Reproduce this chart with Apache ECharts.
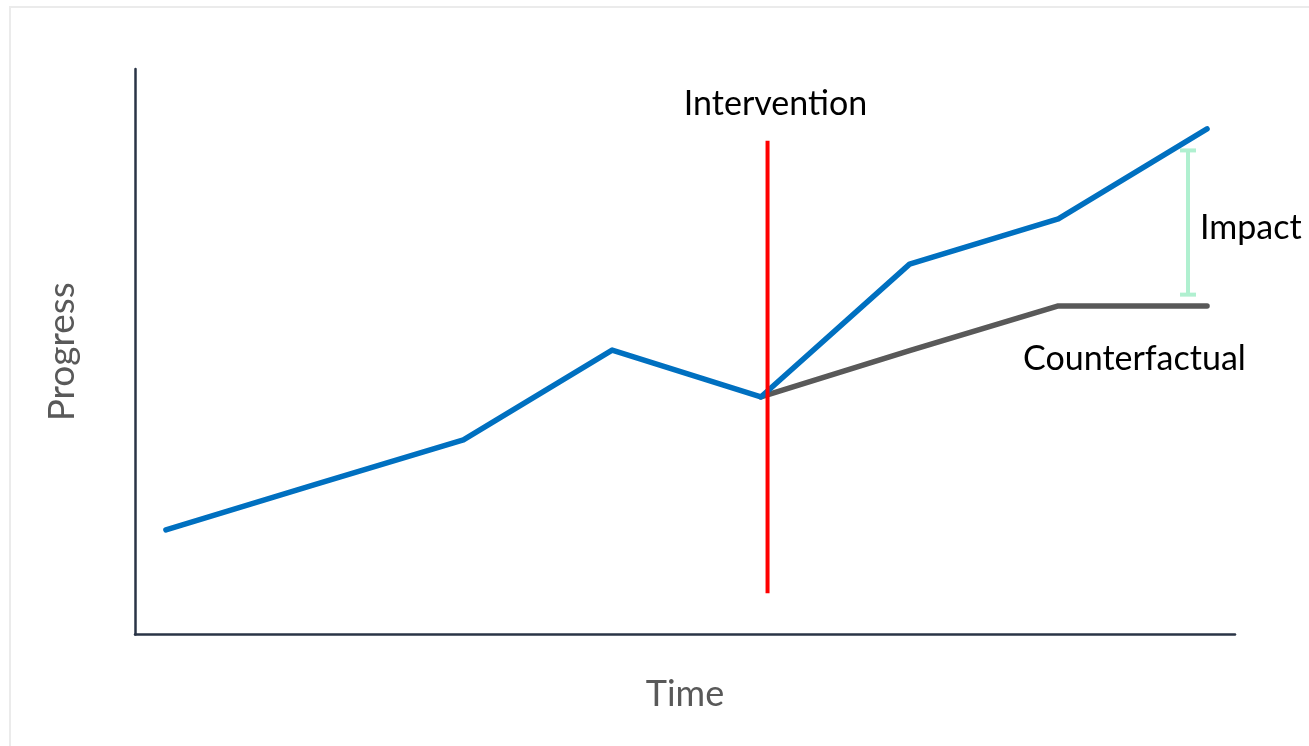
<!DOCTYPE html>
<html>
<head>
<meta charset="utf-8">
<script src="https://cdn.jsdelivr.net/npm/echarts@6/dist/echarts.min.js"></script>
<style>
html,body{margin:0;padding:0;background:#fff;}
#chart{width:1309px;height:746px;}
</style>
</head>
<body>
<div id="chart"></div>
<script>
// Data (x = time step index, y = progress on a 0–100 scale)
const timeSteps = [0, 1, 2, 3, 4, 5, 6, 7];
const progressValues = [18.5, 26.5, 34.4, 50.3, 42.0, 65.5, 73.5, 89.4];
const counterfactualSteps = [4, 5, 6, 7];
const counterfactualValues = [42.0, 50.2, 58.1, 58.1];
const interventionX = 4.045;
const interventionRange = [7.3, 87.3];
const impactX = 6.872;
const impactRange = [60.1, 85.6];
const labels = { intervention: 'Intervention', impact: 'Impact', counterfactual: 'Counterfactual', xName: 'Time', yName: 'Progress' };

const chart = echarts.init(document.getElementById('chart'));
const font = 'Lato, "Open Sans", sans-serif';

const option = {
  animation: false,
  backgroundColor: '#fff',
  graphic: [{
    type: 'rect', z: -10,
    shape: { x: 10, y: 7, width: 1300, height: 742 },
    style: { fill: '#fff', stroke: '#ebebeb', lineWidth: 2 }
  }],
  grid: { left: 135, top: 69, width: 1100, height: 565.5 },
  xAxis: {
    type: 'value', min: -0.208, max: 7.188,
    name: labels.xName, nameLocation: 'middle', nameGap: 42,
    nameTextStyle: { fontFamily: font, fontSize: 36, color: '#595959' },
    axisLine: { show: true, onZero: false, lineStyle: { color: '#2a3446', width: 2.5 } },
    axisTick: { show: false }, axisLabel: { show: false }, splitLine: { show: false }
  },
  yAxis: {
    type: 'value', min: 0, max: 100,
    name: labels.yName, nameLocation: 'middle', nameGap: 54,
    nameTextStyle: { fontFamily: font, fontSize: 37, color: '#595959' },
    axisLine: { show: true, onZero: false, lineStyle: { color: '#2a3446', width: 2.5 } },
    axisTick: { show: false }, axisLabel: { show: false }, splitLine: { show: false }
  },
  series: [
    {
      name: 'Counterfactual', type: 'line', z: 2,
      data: counterfactualSteps.map((x, i) => [x, counterfactualValues[i]]),
      symbol: 'none',
      lineStyle: { color: '#595959', width: 5.5, cap: 'round', join: 'round' },
      endLabel: {
        show: true, formatter: labels.counterfactual,
        fontFamily: font, fontSize: 34, color: '#000',
        offset: [-192, 53]
      }
    },
    {
      name: 'Progress', type: 'line', z: 3,
      data: timeSteps.map((x, i) => [x, progressValues[i]]),
      symbol: 'none',
      lineStyle: { color: '#0070c0', width: 5.5, cap: 'round', join: 'round' }
    },
    {
      name: 'Impact', type: 'line', z: 2,
      data: [[impactX, impactRange[0]], [impactX, impactRange[1]]],
      symbol: 'rect', symbolSize: [16, 4],
      itemStyle: { color: '#b0f0d0' },
      lineStyle: { color: '#b0f0d0', width: 4 },
      markPoint: {
        symbol: 'circle', symbolSize: 0,
        data: [{ coord: [impactX, (impactRange[0] + impactRange[1]) / 2] }],
        label: {
          show: true, position: 'right', distance: 12, formatter: labels.impact,
          fontFamily: font, fontSize: 34, color: '#000', offset: [0, 5]
        }
      }
    },
    {
      name: 'Intervention', type: 'line', z: 5,
      data: [[interventionX, interventionRange[0]], [interventionX, interventionRange[1]]],
      symbol: 'none',
      lineStyle: { color: '#ff0000', width: 4, cap: 'butt' },
      markPoint: {
        symbol: 'circle', symbolSize: 0,
        data: [{ coord: [interventionX, interventionRange[1]] }],
        label: {
          show: true, position: 'top', distance: 20, formatter: labels.intervention,
          fontFamily: font, fontSize: 34, color: '#000', offset: [8, 0]
        }
      }
    }
  ]
};
chart.setOption(option);
</script>
</body>
</html>
